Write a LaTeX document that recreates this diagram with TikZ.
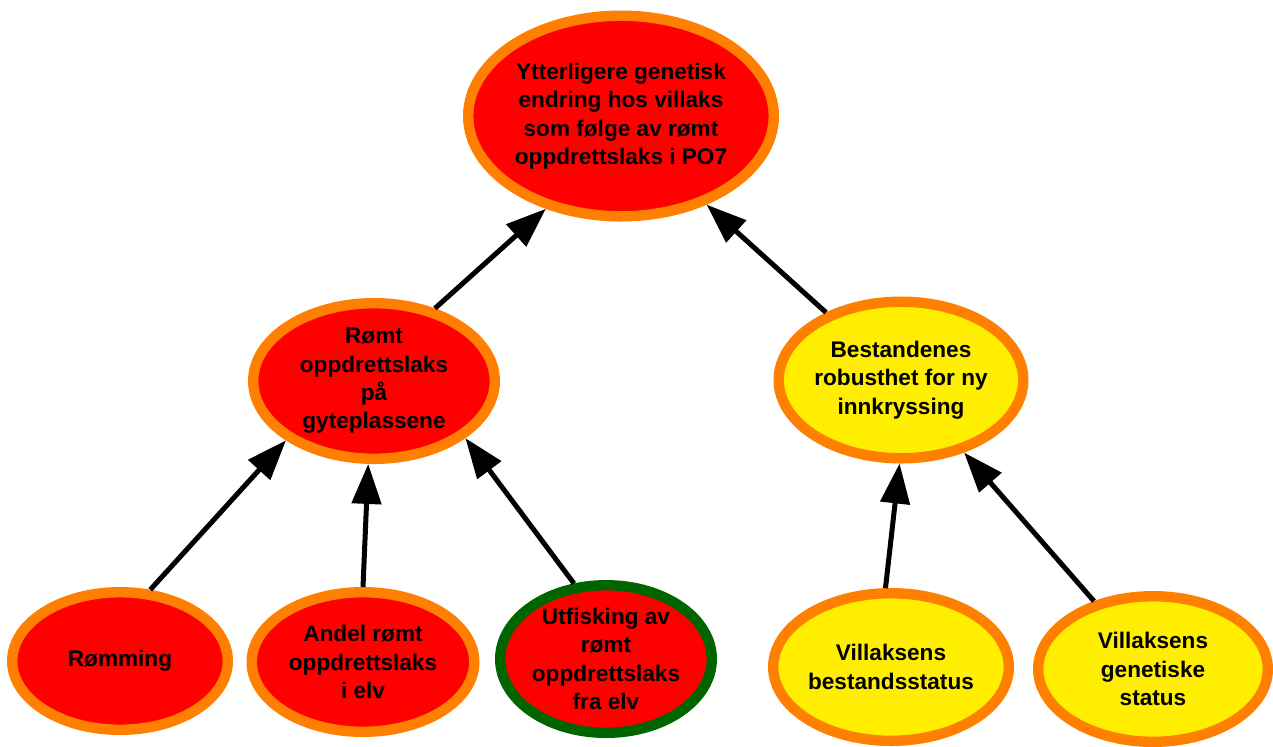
\documentclass[tikz,border=0pt]{standalone}
\usepackage{fontspec}
\setmainfont{Liberation Sans}
\usetikzlibrary{arrows.meta,shapes.geometric}
\definecolor{borange}{RGB}{255,128,0}
\definecolor{bred}{RGB}{255,0,0}
\definecolor{byellow}{RGB}{255,238,0}
\definecolor{bgreen}{RGB}{0,100,0}
\begin{document}
\begin{tikzpicture}[x=0.5pt,y=-0.5pt,
  ell/.style={ellipse, draw=borange, line width=5.2pt, inner sep=0pt},
  redell/.style={ell, fill=bred},
  yelell/.style={ell, fill=byellow},
  lbl/.style={align=center, inner sep=0pt, font=\fontsize{11.3pt}{14.15pt}\selectfont\bfseries},
  arr/.style={line width=2.5pt, draw=black, -{Triangle[length=20pt,width=14.5pt]}}]
\useasboundingbox (0,0) rectangle (1273,746);
% ellipses
\node[redell, minimum width=152.8pt, minimum height=100.3pt] (top) at (621,116) {};
\node[redell, minimum width=120.8pt, minimum height=77.8pt] (romt) at (374,381) {};
\node[yelell, minimum width=122.3pt, minimum height=78.3pt] (best) at (901,380) {};
\node[redell, minimum width=107.8pt, minimum height=68.8pt] (romming) at (120,661) {};
\node[redell, minimum width=111.3pt, minimum height=69.8pt] (andel) at (363,662) {};
\node[redell, draw=bgreen, minimum width=105.8pt, minimum height=73.8pt] (utf) at (606,659) {};
\node[yelell, minimum width=117.8pt, minimum height=73.8pt] (vbs) at (891,667) {};
\node[yelell, minimum width=114.8pt, minimum height=72.8pt] (vgs) at (1153,669) {};
% labels
\node[lbl] (topt) at (top) {Ytterligere genetisk\\endring hos villaks\\som følge av rømt\\oppdrettslaks i PO7};
\node[lbl] (romtt) at (romt) {Rømt\\oppdrettslaks\\på\\gyteplassene};
\node[lbl] (bestt) at (best) {Bestandenes\\robusthet for ny\\innkryssing};
\node[lbl] (rommingt) at (romming) {Rømming};
\node[lbl] (andelt) at (andel) {Andel rømt\\oppdrettslaks\\i elv};
\node[lbl] (utft) at (utf) {Utfisking av\\rømt\\oppdrettslaks\\fra elv};
\node[lbl] (vbst) at (vbs) {Villaksens\\bestandsstatus};
\node[lbl] (vgst) at (vgs) {Villaksens\\genetiske\\status};
% connectors
\draw[arr] (romt.50) -- (top.231.5);
\draw[arr] (best.138) -- (top.314.7);
\draw[arr] (romming.67.7) -- (romt.214.4);
\draw[arr] (andel.90) -- (romt.266.7);
\draw[arr] (utf.113.5) -- (romt.328.2);
\draw[arr] (vbs.94.3) -- (best.269.3);
\draw[arr] (vgs.131) -- (best.311.3);
\end{tikzpicture}
\end{document}
